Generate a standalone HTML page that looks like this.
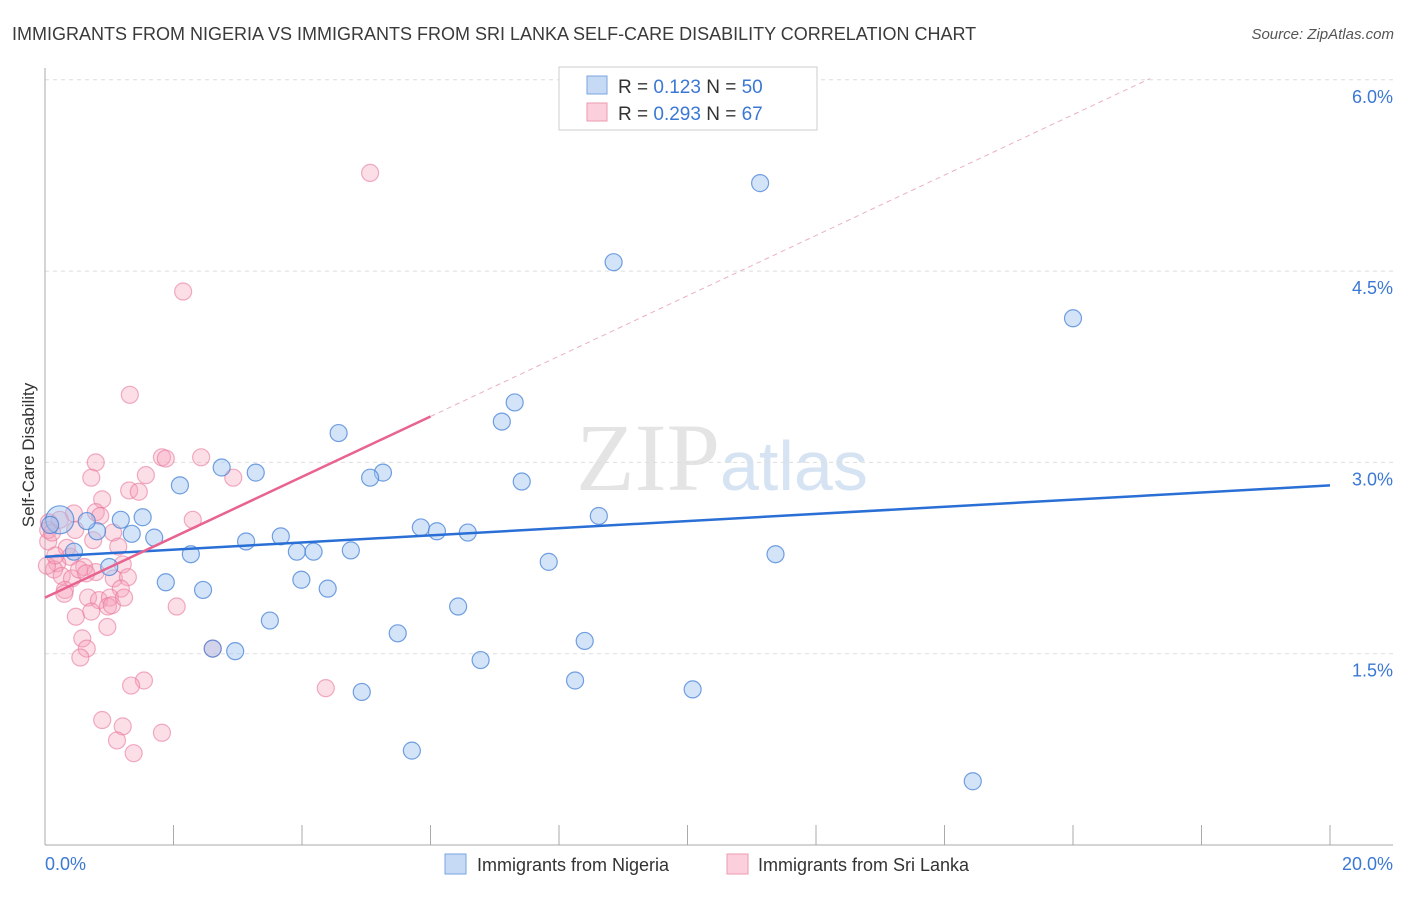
<!DOCTYPE html>
<html><head><meta charset="utf-8"><style>
body{margin:0;background:#fff;font-family:"Liberation Sans",sans-serif;}
</style></head><body>
<svg id="chart" width="1406" height="892" xmlns="http://www.w3.org/2000/svg" font-family="Liberation Sans, sans-serif">
<text x="12" y="40" font-size="18" fill="#3a3a3a">IMMIGRANTS FROM NIGERIA VS IMMIGRANTS FROM SRI LANKA SELF-CARE DISABILITY CORRELATION CHART</text>
<text x="1394" y="39" font-size="15" fill="#555" text-anchor="end" font-style="italic">Source: ZipAtlas.com</text>
<text x="720" y="490" font-size="96" fill="#e4e4e4" text-anchor="end" font-family="Liberation Serif, serif">ZIP</text>
<text x="720" y="490" font-size="70" fill="#d6e3f3">atlas</text>
<g id="grid"></g><g id="axes"></g><g id="pts"></g><g id="trend"></g>
<text transform="translate(34,455) rotate(-90)" font-size="17" fill="#333" text-anchor="middle">Self-Care Disability</text>
<g>
<rect x="559" y="67" width="258" height="63" fill="#fff" stroke="#ccc"/>
<rect x="587" y="76" width="20" height="18" fill="#c6daf5" stroke="#7aa5e0"/>
<rect x="587" y="103" width="20" height="18" fill="#fbd0dc" stroke="#ee9ab2"/>
<text x="618" y="93" font-size="19" fill="#333">R = <tspan fill="#3b78d4">0.123</tspan>   N = <tspan fill="#3b78d4">50</tspan></text>
<text x="618" y="120" font-size="19" fill="#333">R = <tspan fill="#3b78d4">0.293</tspan>   N = <tspan fill="#3b78d4"> 67</tspan></text>
</g>
<g>
<rect x="445" y="854" width="21" height="20" fill="#c6daf5" stroke="#7aa5e0"/>
<text x="477" y="871" font-size="18" fill="#333">Immigrants from Nigeria</text>
<rect x="727" y="854" width="21" height="20" fill="#fbd0dc" stroke="#ee9ab2"/>
<text x="758" y="871" font-size="18" fill="#333">Immigrants from Sri Lanka</text>
</g>
</svg>
<script>
const yTicks=[1.5,3.0,4.5,6.0];
const yTickLabels=["1.5%","3.0%","4.5%","6.0%"];
const xTickLabels=["0.0%","20.0%"];
const nigeriaX=[11.13,8.85,16.0,7.31,7.11,4.57,2.75,3.28,5.26,5.06,2.10,7.42,1.52,1.18,8.62,5.85,6.10,6.58,0.23,0.81,1.35,1.70,3.67,3.13,0.45,2.27,3.92,4.18,4.76,11.37,7.84,1.0,1.88,3.99,4.40,2.46,6.43,3.50,5.49,8.40,2.61,2.96,6.78,8.25,10.08,4.93,5.71,14.44,0.08,0.65];
const nigeriaY=[5.19,4.57,4.13,3.47,3.32,3.23,2.96,2.92,2.92,2.88,2.82,2.85,2.57,2.55,2.58,2.49,2.46,2.45,2.55,2.46,2.44,2.41,2.42,2.38,2.30,2.28,2.30,2.30,2.31,2.28,2.22,2.18,2.06,2.08,2.01,2.0,1.87,1.76,1.66,1.60,1.54,1.52,1.45,1.29,1.22,1.20,0.74,0.50,2.51,2.54];
const sriX=[5.06,2.15,1.32,1.82,1.88,2.43,0.79,1.57,2.93,0.72,1.31,1.46,0.89,0.79,0.45,2.30,0.86,0.06,0.47,1.06,0.05,1.14,0.39,0.19,0.61,0.14,0.26,0.42,0.53,1.21,0.79,1.07,1.29,0.64,0.31,0.67,1.18,0.84,1.01,0.30,0.98,1.04,0.72,2.05,0.48,0.97,0.58,0.65,0.55,2.61,4.37,1.54,1.34,0.89,1.21,1.12,1.82,1.38,0.05,0.11,0.23,0.34,0.75,0.03,0.16,1.23];
const sriY=[5.27,4.34,3.53,3.04,3.03,3.04,3.0,2.9,2.88,2.88,2.78,2.77,2.71,2.61,2.60,2.55,2.58,2.53,2.47,2.45,2.38,2.34,2.26,2.21,2.18,2.16,2.11,2.09,2.16,2.20,2.14,2.09,2.10,2.13,2.0,1.94,2.01,1.92,1.94,1.97,1.87,1.88,1.83,1.87,1.79,1.71,1.62,1.54,1.47,1.54,1.23,1.29,1.25,0.98,0.93,0.82,0.88,0.72,2.47,2.45,2.55,2.33,2.39,2.19,2.27,1.94];
const nigTrend=[[0,2.26],[20,2.82]];
const sriTrend=[[0,1.94],[6.0,3.36]];
const sriDash=[[6.0,3.36],[17.2,6.01]];
const X=v=>45+v/20*1285, Y=v=>845-v/1.5*191.3;
const NS="http://www.w3.org/2000/svg";
function mk(p,t,a){const e=document.createElementNS(NS,t);for(const k in a)e.setAttribute(k,a[k]);p.appendChild(e);return e;}
const grid=document.getElementById('grid'),axes=document.getElementById('axes'),pts=document.getElementById('pts'),tr=document.getElementById('trend');
yTicks.forEach((t,i)=>{
 const l=mk(grid,'line',{x1:45,x2:1393,y1:Y(t),y2:Y(t),stroke:'#ddd','stroke-dasharray':'4,4'});
 
 
 const tx=mk(axes,'text',{x:1393,y:Y(t)+23,'font-size':18,fill:'#3b78d4','text-anchor':'end'});
 tx.textContent=yTickLabels[i];
 
 
});
const al=mk(axes,'line',{x1:45,x2:45,y1:68,y2:845,stroke:'#aaa'});


const bl=mk(axes,'line',{x1:45,x2:1393,y1:845,y2:845,stroke:'#aaa'});


for(let i=0;i<=10;i++){const t=mk(axes,'line',{x1:X(i*2),x2:X(i*2),y1:825,y2:845,stroke:'#aaa'});
 
 }
[[0,45,'start'],[20,1393,'end']].forEach((d,i)=>{const t=mk(axes,'text',{x:d[1],y:870,'font-size':18,fill:'#3b78d4','text-anchor':d[2]});t.textContent=xTickLabels[i];
 
 });
sriX.forEach((x,i)=>{const c=mk(pts,'circle',{cx:X(x),cy:Y(sriY[i]),r:8.5,fill:'rgba(245,160,185,0.35)',stroke:'rgba(232,120,155,0.6)','stroke-width':1.2});
 
 });
nigeriaX.forEach((x,i)=>{const c=mk(pts,'circle',{cx:X(x),cy:Y(nigeriaY[i]),r:i==18?14:8.5,fill:'rgba(160,195,240,0.45)',stroke:'rgba(70,130,215,0.75)','stroke-width':1.2});
 
 });
const l1=mk(tr,'line',{x1:X(nigTrend[0][0]),y1:Y(nigTrend[0][1]),x2:X(nigTrend[1][0]),y2:Y(nigTrend[1][1]),stroke:'#2a6fd6','stroke-width':2.5});


const l2=mk(tr,'line',{x1:X(sriTrend[0][0]),y1:Y(sriTrend[0][1]),x2:X(sriTrend[1][0]),y2:Y(sriTrend[1][1]),stroke:'#e8638f','stroke-width':2.5});


const l3=mk(tr,'line',{x1:X(sriDash[0][0]),y1:Y(sriDash[0][1]),x2:X(sriDash[1][0]),y2:Y(sriDash[1][1]),stroke:'#ebb0c2','stroke-width':1,'stroke-dasharray':'5,4'});


</script>
</body></html>
